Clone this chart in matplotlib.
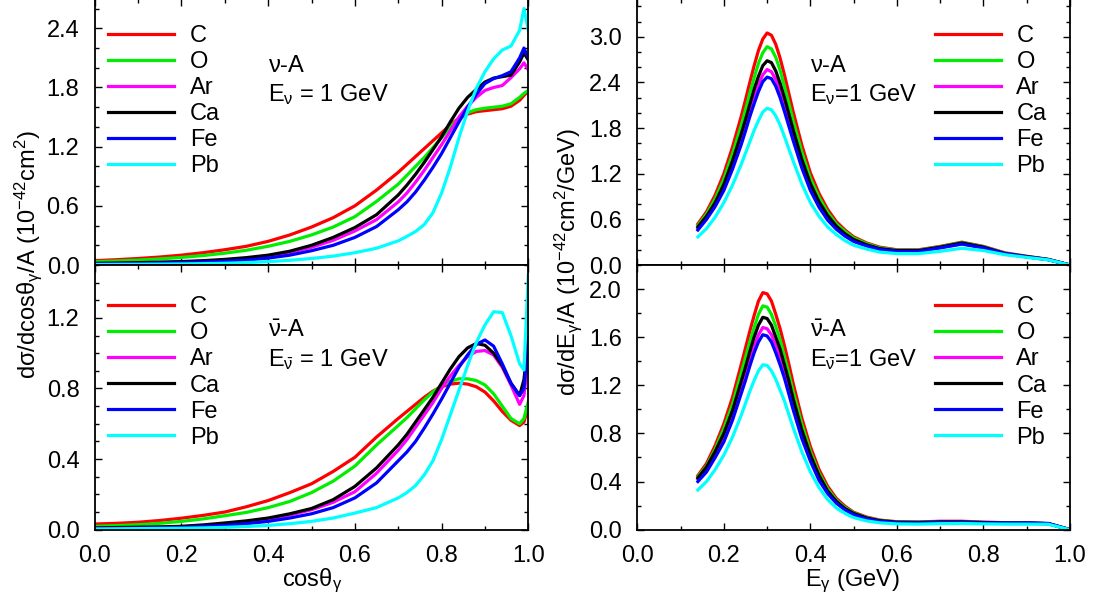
import numpy as np
import matplotlib
matplotlib.use("Agg")
import matplotlib.pyplot as plt
from matplotlib.ticker import MultipleLocator, FormatStrFormatter

# ---------------- STYLE ----------------
plt.rcParams["font.family"] = ["Liberation Sans", "DejaVu Sans"]
plt.rcParams["mathtext.fontset"] = "custom"
plt.rcParams["mathtext.rm"] = "Liberation Sans"
plt.rcParams["mathtext.it"] = "Liberation Sans:italic"
plt.rcParams["mathtext.default"] = "regular"

nuclei = ["C", "O", "Ar", "Ca", "Fe", "Pb"]
colors = ["#ff0000", "#00ee00", "#ff00ff", "#000000", "#0000ff", "#00ffff"]

# ---------------- DATA: cos(theta_gamma) grid ----------------
cos_grid = [0.0, 0.05, 0.1, 0.15, 0.2, 0.25, 0.3, 0.35, 0.4, 0.45, 0.5, 0.55, 0.6, 0.65, 0.7,
            0.72, 0.74, 0.76, 0.78, 0.8, 0.82, 0.84, 0.86, 0.88, 0.9, 0.92, 0.94, 0.96, 0.98,
            0.99, 1.0]

# nu-A
cos_nu_C = [0.044, 0.054, 0.066, 0.081, 0.10, 0.125, 0.155, 0.19, 0.24, 0.305, 0.385, 0.48, 0.60, 0.76, 0.94,
            1.02, 1.10, 1.18, 1.26, 1.34, 1.42, 1.49, 1.53, 1.555, 1.565, 1.575, 1.585, 1.61, 1.67, 1.72, 1.76]
cos_nu_O = [0.034, 0.041, 0.05, 0.062, 0.077, 0.096, 0.12, 0.15, 0.19, 0.24, 0.305, 0.385, 0.49, 0.645, 0.82,
            0.91, 1.00, 1.09, 1.19, 1.29, 1.40, 1.49, 1.545, 1.575, 1.59, 1.60, 1.61, 1.635, 1.70, 1.74, 1.77]
cos_nu_Ar = [0.015, 0.017, 0.02, 0.025, 0.03, 0.039, 0.05, 0.066, 0.09, 0.126, 0.18, 0.25, 0.345, 0.46, 0.64,
             0.73, 0.84, 0.96, 1.09, 1.22, 1.36, 1.50, 1.61, 1.70, 1.77, 1.80, 1.82, 1.90, 1.99, 2.05, 1.98]
cos_nu_Ca = [0.017, 0.02, 0.024, 0.029, 0.035, 0.044, 0.057, 0.075, 0.10, 0.14, 0.20, 0.28, 0.38, 0.51, 0.71,
             0.81, 0.92, 1.04, 1.17, 1.30, 1.45, 1.59, 1.70, 1.78, 1.855, 1.895, 1.91, 1.925, 2.06, 2.15, 2.08]
cos_nu_Fe = [0.01, 0.013, 0.016, 0.02, 0.024, 0.03, 0.038, 0.05, 0.07, 0.10, 0.145, 0.20, 0.28, 0.39, 0.56,
             0.64, 0.74, 0.86, 0.99, 1.13, 1.29, 1.45, 1.60, 1.73, 1.84, 1.89, 1.92, 1.96, 2.10, 2.20, 2.10]
cos_nu_Pb = [0.005, 0.006, 0.007, 0.009, 0.011, 0.014, 0.018, 0.025, 0.034, 0.048, 0.066, 0.09, 0.125, 0.17, 0.245,
             0.29, 0.34, 0.41, 0.53, 0.73, 0.99, 1.29, 1.56, 1.79, 1.96, 2.09, 2.18, 2.22, 2.38, 2.60, 2.38]

# nubar-A
cos_nb_C = [0.032, 0.036, 0.042, 0.052, 0.065, 0.081, 0.10, 0.13, 0.165, 0.21, 0.26, 0.33, 0.41, 0.525, 0.63,
            0.67, 0.71, 0.75, 0.785, 0.81, 0.825, 0.83, 0.825, 0.81, 0.78, 0.73, 0.67, 0.62, 0.59, 0.61, 0.70]
cos_nb_O = [0.019, 0.023, 0.028, 0.036, 0.047, 0.061, 0.079, 0.098, 0.125, 0.16, 0.21, 0.275, 0.36, 0.48, 0.59,
            0.635, 0.685, 0.735, 0.78, 0.815, 0.84, 0.855, 0.855, 0.845, 0.82, 0.77, 0.70, 0.63, 0.60, 0.63, 0.725]
cos_nb_Ar = [0.008, 0.01, 0.012, 0.014, 0.017, 0.023, 0.032, 0.044, 0.06, 0.083, 0.113, 0.155, 0.215, 0.32, 0.45,
             0.51, 0.58, 0.65, 0.72, 0.80, 0.87, 0.93, 0.98, 1.01, 1.015, 0.99, 0.92, 0.82, 0.71, 0.76, 0.97]
cos_nb_Ca = [0.01, 0.012, 0.014, 0.016, 0.019, 0.027, 0.038, 0.05, 0.066, 0.09, 0.12, 0.17, 0.245, 0.35, 0.48,
             0.54, 0.61, 0.68, 0.75, 0.83, 0.91, 0.98, 1.03, 1.055, 1.045, 1.0, 0.93, 0.83, 0.76, 0.85, 1.08]
cos_nb_Fe = [0.006, 0.007, 0.009, 0.011, 0.013, 0.018, 0.024, 0.034, 0.047, 0.066, 0.09, 0.125, 0.18, 0.265, 0.39,
             0.44, 0.50, 0.575, 0.655, 0.74, 0.83, 0.92, 0.99, 1.05, 1.075, 1.04, 0.94, 0.83, 0.76, 0.80, 1.09]
cos_nb_Pb = [0.004, 0.005, 0.006, 0.007, 0.008, 0.01, 0.013, 0.018, 0.024, 0.034, 0.047, 0.066, 0.094, 0.125, 0.18,
             0.21, 0.25, 0.31, 0.39, 0.51, 0.65, 0.79, 0.93, 1.06, 1.16, 1.235, 1.23, 1.10, 0.94, 0.905, 1.44]

# ---------------- DATA: E_gamma grid (GeV) ----------------
e_grid = [0.14, 0.16, 0.18, 0.20, 0.22, 0.24, 0.25, 0.26, 0.27, 0.28, 0.29, 0.30, 0.31, 0.32, 0.33,
          0.34, 0.35, 0.36, 0.38, 0.40, 0.42, 0.44, 0.46, 0.48, 0.50, 0.53, 0.56, 0.60, 0.65, 0.70,
          0.75, 0.80, 0.85, 0.90, 0.95, 1.0]

# nu-A
e_nu_C = [0.54, 0.70, 0.92, 1.20, 1.55, 1.95, 2.17, 2.40, 2.62, 2.82, 2.97, 3.05, 3.02, 2.90, 2.72, 2.50, 2.26, 2.02,
          1.58, 1.21, 0.94, 0.73, 0.57, 0.46, 0.37, 0.29, 0.235, 0.20, 0.20, 0.245, 0.30, 0.245, 0.16, 0.115, 0.075, 0.0]
e_nu_O = [0.52, 0.67, 0.87, 1.13, 1.46, 1.83, 2.04, 2.26, 2.46, 2.65, 2.79, 2.87, 2.84, 2.73, 2.56, 2.35, 2.13, 1.90,
          1.49, 1.14, 0.89, 0.69, 0.54, 0.44, 0.355, 0.28, 0.225, 0.195, 0.195, 0.24, 0.295, 0.24, 0.155, 0.112, 0.073, 0.0]
e_nu_Ar = [0.48, 0.62, 0.79, 1.02, 1.31, 1.64, 1.83, 2.02, 2.20, 2.37, 2.50, 2.57, 2.54, 2.44, 2.29, 2.10, 1.90, 1.70,
           1.33, 1.02, 0.79, 0.62, 0.49, 0.39, 0.32, 0.255, 0.21, 0.185, 0.185, 0.23, 0.28, 0.23, 0.15, 0.108, 0.07, 0.0]
e_nu_Ca = [0.50, 0.64, 0.82, 1.06, 1.37, 1.72, 1.91, 2.11, 2.31, 2.48, 2.62, 2.685, 2.66, 2.55, 2.39, 2.20, 1.99, 1.78,
           1.39, 1.07, 0.83, 0.65, 0.51, 0.41, 0.335, 0.265, 0.215, 0.19, 0.19, 0.235, 0.29, 0.235, 0.15, 0.11, 0.072, 0.0]
e_nu_Fe = [0.46, 0.60, 0.77, 0.98, 1.26, 1.58, 1.76, 1.95, 2.12, 2.28, 2.41, 2.47, 2.45, 2.35, 2.20, 2.02, 1.83, 1.64,
           1.28, 0.98, 0.76, 0.59, 0.47, 0.38, 0.31, 0.25, 0.205, 0.18, 0.18, 0.225, 0.275, 0.225, 0.15, 0.107, 0.07, 0.0]
e_nu_Pb = [0.37, 0.48, 0.63, 0.82, 1.05, 1.32, 1.47, 1.62, 1.77, 1.90, 2.01, 2.06, 2.04, 1.96, 1.84, 1.69, 1.53, 1.37,
           1.07, 0.82, 0.64, 0.50, 0.40, 0.32, 0.26, 0.21, 0.17, 0.15, 0.15, 0.18, 0.22, 0.19, 0.135, 0.10, 0.068, 0.0]

# nubar-A
e_nb_C = [0.45, 0.55, 0.70, 0.88, 1.10, 1.37, 1.51, 1.65, 1.78, 1.90, 1.97, 1.96, 1.90, 1.79, 1.67, 1.53, 1.38, 1.22,
          0.93, 0.69, 0.50, 0.36, 0.26, 0.195, 0.145, 0.105, 0.08, 0.066, 0.064, 0.07, 0.07, 0.063, 0.058, 0.056, 0.05, 0.0]
e_nb_O = [0.44, 0.53, 0.67, 0.84, 1.04, 1.30, 1.43, 1.56, 1.68, 1.79, 1.86, 1.85, 1.79, 1.69, 1.58, 1.44, 1.30, 1.15,
          0.88, 0.65, 0.47, 0.34, 0.245, 0.185, 0.14, 0.10, 0.077, 0.064, 0.062, 0.067, 0.067, 0.06, 0.056, 0.055, 0.05, 0.0]
e_nb_Ar = [0.42, 0.50, 0.62, 0.76, 0.95, 1.17, 1.29, 1.41, 1.52, 1.62, 1.68, 1.67, 1.62, 1.53, 1.42, 1.30, 1.18, 1.04,
           0.79, 0.59, 0.43, 0.31, 0.225, 0.17, 0.13, 0.093, 0.072, 0.06, 0.058, 0.062, 0.062, 0.057, 0.054, 0.054, 0.05, 0.0]
e_nb_Ca = [0.43, 0.52, 0.65, 0.80, 0.99, 1.23, 1.35, 1.48, 1.60, 1.70, 1.765, 1.755, 1.70, 1.60, 1.50, 1.37, 1.24, 1.09,
           0.83, 0.62, 0.45, 0.32, 0.235, 0.175, 0.135, 0.097, 0.075, 0.062, 0.06, 0.065, 0.065, 0.059, 0.055, 0.055, 0.05, 0.0]
e_nb_Fe = [0.40, 0.48, 0.60, 0.73, 0.91, 1.13, 1.24, 1.36, 1.47, 1.56, 1.62, 1.61, 1.56, 1.47, 1.37, 1.26, 1.13, 1.00,
           0.76, 0.57, 0.41, 0.30, 0.22, 0.165, 0.125, 0.09, 0.07, 0.058, 0.057, 0.06, 0.06, 0.057, 0.055, 0.056, 0.052, 0.0]
e_nb_Pb = [0.33, 0.40, 0.50, 0.62, 0.77, 0.95, 1.05, 1.15, 1.24, 1.32, 1.37, 1.365, 1.32, 1.25, 1.16, 1.07, 0.96, 0.85,
           0.65, 0.48, 0.35, 0.25, 0.18, 0.135, 0.10, 0.073, 0.057, 0.048, 0.046, 0.05, 0.051, 0.048, 0.046, 0.046, 0.045, 0.0]

panels = [
    # x, series, ytop, major, minor, reaction, energy text, legend x, legend y
    (cos_grid, [cos_nu_C, cos_nu_O, cos_nu_Ar, cos_nu_Ca, cos_nu_Fe, cos_nu_Pb],
     2.7, 0.6, 0.2, r"$\nu$-A", r"E$_{\nu}$ = 1 GeV", 0.031, 0.90),
    (e_grid, [e_nu_C, e_nu_O, e_nu_Ar, e_nu_Ca, e_nu_Fe, e_nu_Pb],
     3.5, 0.6, 0.2, r"$\nu$-A", r"E$_{\nu}$=1 GeV", 0.688, 0.90),
    (cos_grid, [cos_nb_C, cos_nb_O, cos_nb_Ar, cos_nb_Ca, cos_nb_Fe, cos_nb_Pb],
     1.5, 0.4, 0.1, r"$\bar{\nu}$-A", r"E$_{\bar{\nu}}$ = 1 GeV", 0.031, 0.881),
    (e_grid, [e_nb_C, e_nb_O, e_nb_Ar, e_nb_Ca, e_nb_Fe, e_nb_Pb],
     2.2, 0.4, 0.2, r"$\bar{\nu}$-A", r"E$_{\bar{\nu}}$=1 GeV", 0.688, 0.881),
]

rects = [
    [0.0862, 0.5605, 0.3945, 0.4416],
    [0.5799, 0.5605, 0.3937, 0.4416],
    [0.0862, 0.1216, 0.3945, 0.4390],
    [0.5799, 0.1216, 0.3937, 0.4390],
]

fig = plt.figure(figsize=(10.99, 6.03), dpi=100)

for i, (rect, p) in enumerate(zip(rects, panels)):
    xs, series, ytop, major, minor, label, etext, legx, legy = p
    ax = fig.add_axes(rect)
    for name, ys, c in zip(nuclei, series, colors):
        ax.plot(xs, ys, color=c, lw=2.3, label=name, solid_joinstyle="round")
    ax.set_xlim(0, 1.0)
    ax.set_ylim(0, ytop)
    ax.xaxis.set_major_locator(MultipleLocator(0.2))
    ax.xaxis.set_minor_locator(MultipleLocator(0.1))
    ax.yaxis.set_major_locator(MultipleLocator(major))
    ax.yaxis.set_minor_locator(MultipleLocator(minor))
    ax.yaxis.set_major_formatter(FormatStrFormatter("%.1f"))
    ax.xaxis.set_major_formatter(FormatStrFormatter("%.1f"))
    ax.tick_params(which="both", direction="in", top=True, right=True,
                   labelsize=17, width=1.0)
    ax.tick_params(which="major", length=5, pad=11)
    ax.tick_params(which="minor", length=3)
    if i < 2:
        ax.tick_params(labelbottom=False)
    for s in ax.spines.values():
        s.set_linewidth(1.3)
    ax.legend(loc="upper left", bbox_to_anchor=(legx, legy), frameon=False,
              fontsize=17, handlelength=2.8, handletextpad=0.65,
              labelspacing=0.17, borderpad=0, borderaxespad=0)
    ax.text(0.400, 0.726, label, transform=ax.transAxes, fontsize=17)
    ax.text(0.400, 0.617, etext, transform=ax.transAxes, fontsize=17)

# ---------------- AXIS LABELS ----------------
fig.text(0.026, 0.578, r"d$\sigma$/dcos$\theta_{\gamma}$/A (10$^{-42}$cm$^2$)",
         rotation=90, ha="center", va="center", fontsize=17)
fig.text(0.517, 0.565, r"d$\sigma$/dE$_{\gamma}$/A (10$^{-42}$cm$^2$/GeV)",
         rotation=90, ha="center", va="center", fontsize=17)
fig.text(0.284, 0.028, r"cos$\theta_{\gamma}$", ha="center", va="baseline", fontsize=17)
fig.text(0.776, 0.028, r"E$_{\gamma}$ (GeV)", ha="center", va="baseline", fontsize=17)

fig.savefig("out.png", dpi=100)
